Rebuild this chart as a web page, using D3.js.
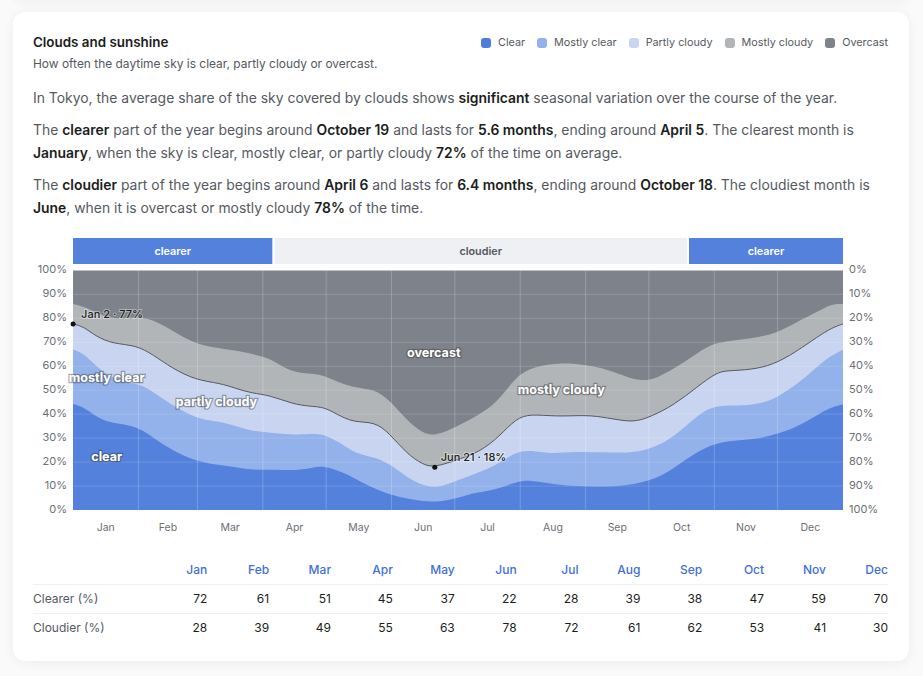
<!DOCTYPE html>
<html>
<head>
<meta charset="utf-8">
<script src="https://cdn.jsdelivr.net/npm/d3@7"></script>
<style>
  html, body { margin: 0; padding: 0; background: #fafafa; }
  body { width: 923px; height: 676px; overflow: hidden; position: relative; font-family: Inter, sans-serif; color: #52565c; }
  .prev { position: absolute; left: 13px; top: -40px; width: 896px; height: 40px; background: #fff; border-radius: 12px; box-shadow: 0 2px 12px rgba(0,0,0,.05); }
  .card { position: absolute; left: 13px; top: 12px; width: 896px; height: 649px; background: #fff; border-radius: 12px; box-shadow: 0 2px 12px rgba(0,0,0,.06); }
  .abs { position: absolute; white-space: nowrap; }
  h3 { margin: 0; font-size: 13.4px; line-height: 20px; font-weight: 600; color: #1b1d20; }
  .sub { font-size: 11.95px; line-height: 18px; color: #55595f; }
  .para { font-size: 13.92px; line-height: 23px; color: #55595f; }
  .para b { font-weight: 600; color: #1b1d20; }
  .legend { display: flex; align-items: center; font-size: 10.8px; color: #55595f; }
  .legend span.sw { width: 10px; height: 10px; border-radius: 3px; margin-right: 7px; }
  .legend span.it { margin-right: 12px; }
  .legend span.it:last-child { margin-right: 0; }
  svg { position: absolute; left: 0; top: 0; }
  svg text { font-family: Inter, sans-serif; }
  table { position: absolute; left: 33px; top: 556px; width: 855px; table-layout: fixed; border-collapse: collapse; font-size: 12px; }
  th, td { padding: 0; height: 28.5px; text-align: right; font-weight: 400; box-sizing: border-box; }
  th:first-child, td:first-child { width: 112.4px; text-align: left; color: #55595f; }
  th { color: #3f6fd8; font-weight: 500; border-bottom: 1px solid #f0f1f3; padding-bottom: 1px; }
  td { color: #1b1d20; }
  tr.r1 td { border-bottom: 1px solid #f0f1f3; }
</style>
</head>
<body>
<div class="prev"></div>
<div class="card"></div>
<h3 class="abs" style="left:33px;top:32px">Clouds and sunshine</h3>
<div class="abs sub" style="left:33px;top:54.5px">How often the daytime sky is clear, partly cloudy or overcast.</div>
<div class="abs legend" id="legend" style="right:35px;top:36px"></div>
<div class="abs para" style="left:33px;top:87px">In Tokyo, the average share of the sky covered by clouds shows <b>significant</b> seasonal variation over the course of the year.</div>
<div class="abs para" style="left:33px;top:119px">The <b>clearer</b> part of the year begins around <b>October 19</b> and lasts for <b>5.6 months</b>, ending around <b>April 5</b>. The clearest month is<br><b>January</b>, when the sky is clear, mostly clear, or partly cloudy <b>72%</b> of the time on average.</div>
<div class="abs para" style="left:33px;top:174px">The <b>cloudier</b> part of the year begins around <b>April 6</b> and lasts for <b>6.4 months</b>, ending around <b>October 18</b>. The cloudiest month is<br><b>June</b>, when it is overcast or mostly cloudy <b>78%</b> of the time.</div>
<svg id="chart" width="923" height="676"></svg>
<table id="tbl"></table>
<script>
// values: [day of year, cumulative % of sky]
var clearTop = [[0,44.3],[6,42.5],[11,39],[17,36.5],[27,35.5],[33,33.4],[39.5,29.2],[47,25],[55,21.6],[63,19.5],[74,18.4],[84,16.7],[96,17],[106,16.4],[114,17.8],[119,18.4],[128,16],[139,10.4],[150,6.3],[160,4.5],[168,3.5],[176,3.5],[187,6.3],[191,7.2],[201,8.6],[210,11.8],[217,12.5],[226,11],[236,10],[250,9.7],[262,10],[277,12.8],[288,19.5],[297,25],[305,27.9],[313,29],[324,29.5],[335,32],[345,35.5],[354,40.4],[360,43],[365,44.1]];
var mostlyClearTop = [[0,67],[5,65.5],[11,60],[17,55.7],[27,53.2],[35,51.5],[43,46],[51,41.8],[58,38.7],[65,37.3],[74,36.2],[84,33],[93,32.3],[106,31.3],[114,31.9],[120,31.3],[127,27.9],[134,23.4],[144,22],[152,18.1],[160,12.5],[168,9.7],[174,9.5],[182,12.3],[191,15.3],[201,18.8],[210,24.4],[217,25],[226,23.4],[239,24.5],[250,24],[258,24],[267,24],[277,26.5],[286,31.3],[297,40.4],[305,43.9],[318,43.5],[327,44.6],[335,47.4],[348,55.7],[357,63.4],[365,66.9]];
var partlyCloudyTop = [[0,77.7],[5,76.6],[11,72.4],[19,69.4],[30,68.8],[38,64.8],[47,59.2],[58,54.3],[70,52.9],[77,50.8],[85,48.7],[93,48],[104,44.3],[112,43.3],[119,43],[125,40],[133,36.5],[143,36.9],[150,32],[158,23.7],[166,18.8],[171.5,17.8],[183,21.2],[193,24.4],[202,30.6],[210,38.3],[217,40.1],[229,39],[242,39.6],[250,39],[261,37.2],[267,37],[274,39],[285,43.9],[296,51.5],[305,57.4],[310,58.2],[321,58.5],[332,60.6],[343,66.2],[353,72.4],[360,76.2],[365,77.7]];
var mostlyCloudyTop = [[0,86],[6,84.7],[14,81],[20,79.7],[32,80.8],[40,78.7],[49,73.8],[58,69.4],[66,68],[77,66.6],[85,65.2],[93,63.4],[99,59.9],[106,57.1],[117,57.1],[125,53.6],[133,51.1],[143,50.4],[150,46],[158,37.6],[166,31.8],[172,31],[182,34.8],[195,41],[202,46],[210,55.7],[218,59.9],[232,61.6],[243,60.6],[250,59.5],[258,57.1],[269,53.5],[277,55],[288,60.6],[297,66.2],[305,70.3],[321,71.4],[334,73.8],[345,79.4],[356,84.3],[360,86],[365,86]];
var overcastTop = [[0,100],[365,100]];

var months = ["Jan","Feb","Mar","Apr","May","Jun","Jul","Aug","Sep","Oct","Nov","Dec"];
var monthStarts = [0,31,59,90,120,151,181,212,243,273,304,334,365];
var clearer = [72,61,51,45,37,22,28,39,38,47,59,70];
var cloudier = [28,39,49,55,63,78,72,61,62,53,41,30];
var pctTicks = [0,10,20,30,40,50,60,70,80,90,100];

var legendNames = ["Clear","Mostly clear","Partly cloudy","Mostly cloudy","Overcast"];
var legendColors = ["#4f7cdc","#93b1ea","#c9d5f0","#b2b5b8","#7e828a"];

// [start day, end day, label]
var periods = [[0,94.5,"clearer"],[95.5,291,"cloudier"],[292,365,"clearer"]];
// [day, % , text]
var areaLabels = [[16,21.6,"clear"],[16,54.5,"mostly clear"],[68,44.5,"partly cloudy"],[171,65,"overcast"],[231.5,49.6,"mostly cloudy"]];
var notes = [[1,77.7,"Jan 2 · 77%"],[171.5,17.8,"Jun 21 · 18%"]];

var svg = d3.select("#chart");

var x = d3.scaleLinear().domain([0, 365]).range([73, 843]);
var y = d3.scaleLinear().domain([0, 100]).range([510, 270.5]);

// legend
var li = d3.select("#legend").selectAll("span.it").data(legendNames).enter()
    .append("span").attr("class", "it").style("display", "flex").style("align-items", "center");
li.append("span").attr("class", "sw").style("background", function(d, i){ return legendColors[i]; });
li.append("span").text(function(d){ return d; });

// clearer / cloudier strip
svg.selectAll("rect.period").data(periods).enter().append("rect")
    .attr("class", "period")
    .attr("x", function(d){ return x(d[0]); })
    .attr("y", 238)
    .attr("width", function(d){ return x(d[1]) - x(d[0]); })
    .attr("height", 26)
    .attr("fill", function(d){ return d[2] == "clearer" ? "#5481dc" : "#eff0f3"; });
svg.selectAll("text.period").data(periods).enter().append("text")
    .attr("class", "period")
    .attr("x", function(d){ return (x(d[0]) + x(d[1])) / 2; })
    .attr("y", 255)
    .attr("text-anchor", "middle")
    .attr("font-size", 10.8)
    .attr("font-weight", 600)
    .attr("fill", function(d){ return d[2] == "clearer" ? "#fff" : "#55595f"; })
    .text(function(d){ return d[2]; });

// stacked bands, painted back to front
var area = d3.area()
    .x(function(d){ return x(d[0]); })
    .y0(y(0))
    .y1(function(d){ return y(d[1]); })
    .curve(d3.curveBasis);

var bands = [overcastTop, mostlyCloudyTop, partlyCloudyTop, mostlyClearTop, clearTop];
var bandColors = ["#7e828a","#b2b5b8","#c9d5f0","#93b1ea","#5481dc"];
svg.selectAll("path.band").data(bands).enter().append("path")
    .attr("class", "band")
    .attr("d", area)
    .attr("fill", function(d, i){ return bandColors[i]; });

// grid on top of the bands
svg.selectAll("line.h").data(pctTicks.slice(1, -1)).enter().append("line")
    .attr("class", "h")
    .attr("x1", x(0)).attr("x2", x(365))
    .attr("y1", function(d){ return y(d); }).attr("y2", function(d){ return y(d); })
    .attr("stroke", "#fff").attr("stroke-opacity", 0.12).attr("stroke-width", 1.2);
svg.selectAll("line.v").data(monthStarts.slice(1, -1)).enter().append("line")
    .attr("class", "v")
    .attr("y1", y(0)).attr("y2", y(100))
    .attr("x1", function(d){ return x(d); }).attr("x2", function(d){ return x(d); })
    .attr("stroke", "#fff").attr("stroke-opacity", 0.22).attr("stroke-width", 1);

// dark line between cloudy and clear
var line = d3.line()
    .x(function(d){ return x(d[0]); })
    .y(function(d){ return y(d[1]); })
    .curve(d3.curveBasis);
svg.append("path").attr("d", line(partlyCloudyTop))
    .attr("fill", "none").attr("stroke", "#55595f").attr("stroke-width", 1);

// axes
var axisLeft = d3.axisLeft(y).tickValues(pctTicks).tickSize(0).tickPadding(6)
    .tickFormat(function(d){ return d + "%"; });
var axisRight = d3.axisRight(y).tickValues(pctTicks).tickSize(0).tickPadding(6)
    .tickFormat(function(d){ return (100 - d) + "%"; });
var gl = svg.append("g").attr("transform", "translate(73,0)").call(axisLeft);
var gr = svg.append("g").attr("transform", "translate(843,0)").call(axisRight);
[gl, gr].forEach(function(g){
    g.select(".domain").remove();
    g.selectAll("text").attr("font-size", 11).attr("fill", "#6b6f75").attr("dy", "0.2em");
});

var monthMids = months.map(function(m, i){ return (monthStarts[i] + monthStarts[i + 1]) / 2; });
svg.selectAll("text.month").data(months).enter().append("text")
    .attr("class", "month")
    .attr("x", function(d, i){ return x(monthMids[i]); })
    .attr("y", 531)
    .attr("text-anchor", "middle")
    .attr("font-size", 10.5)
    .attr("fill", "#6b6f75")
    .text(function(d){ return d; });

// band labels
svg.selectAll("text.blabel").data(areaLabels).enter().append("text")
    .attr("class", "blabel")
    .attr("x", function(d){ return x(d[0]); })
    .attr("y", function(d){ return y(d[1]) - 1; })
    .attr("text-anchor", "middle")
    .attr("dominant-baseline", "middle")
    .attr("font-size", 12.6)
    .attr("font-weight", 700)
    .attr("fill", "#fff")
    .attr("stroke", "rgba(60,60,60,.45)")
    .attr("stroke-width", 2.5)
    .attr("paint-order", "stroke")
    .text(function(d){ return d[2]; });

// min / max notes
svg.selectAll("circle.note").data(notes).enter().append("circle")
    .attr("class", "note")
    .attr("cx", function(d){ return x(d[0]) - (d[0] == 1 ? 2 : 0); })
    .attr("cy", function(d){ return y(d[1]); })
    .attr("r", 2.5)
    .attr("fill", "#111");
svg.selectAll("text.note").data(notes).enter().append("text")
    .attr("class", "note")
    .attr("x", function(d){ return x(d[0]) + 6; })
    .attr("y", function(d){ return y(d[1]) - 6; })
    .attr("font-size", 11)
    .attr("font-weight", 500)
    .attr("fill", "#1b1d20")
    .attr("stroke", "rgba(255,255,255,.4)")
    .attr("stroke-width", 2)
    .attr("paint-order", "stroke")
    .text(function(d){ return d[2]; });

// table under the chart
var tbl = d3.select("#tbl");
var head = tbl.append("tr");
head.append("th").text("");
head.selectAll("th.m").data(months).enter().append("th").attr("class", "m").text(function(d){ return d; });
[["Clearer (%)", clearer, "r1"], ["Cloudier (%)", cloudier, "r2"]].forEach(function(row){
    var tr = tbl.append("tr").attr("class", row[2]);
    tr.append("td").text(row[0]);
    tr.selectAll("td.v").data(row[1]).enter().append("td").attr("class", "v").text(function(d){ return d; });
});
</script>
</body>
</html>
